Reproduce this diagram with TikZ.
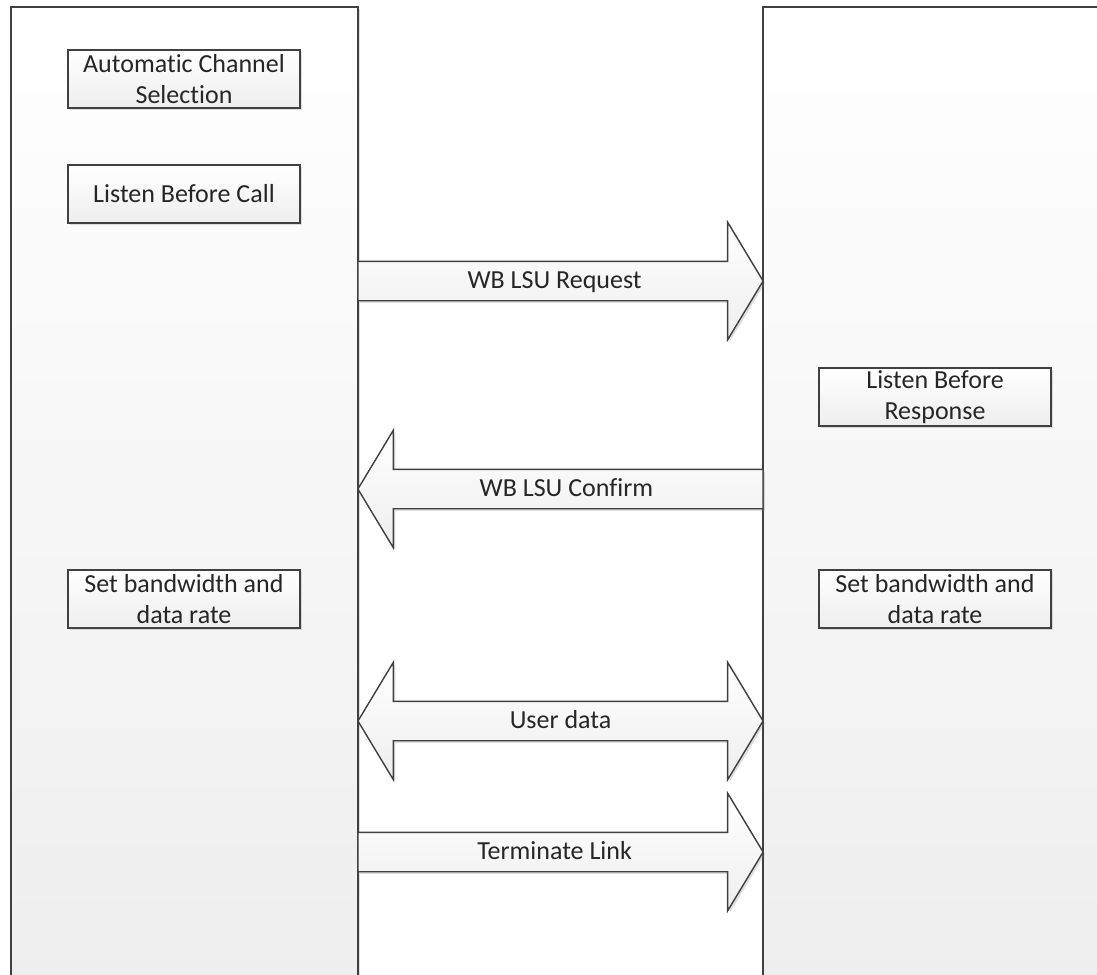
\documentclass[tikz,border=0pt]{standalone}
\usepackage{fontspec}
\setmainfont{Carlito}[Ligatures=NoCommon]
\usetikzlibrary{shapes.arrows,shadows}
\definecolor{linegray}{HTML}{404040}
\definecolor{textgray}{HTML}{262626}
\definecolor{fillgray}{HTML}{EEEEEE}
\tikzset{
  lightshadow/.style={drop shadow={shadow xshift=1.5pt,shadow yshift=-1.5pt,opacity=0.25,fill=gray}},
  panel/.style={draw=linegray,line width=1pt,top color=white,bottom color=fillgray,
    minimum height=24.5cm,anchor=north west,outer sep=0pt,lightshadow},
  task/.style={draw=linegray,line width=1pt,top color=white,bottom color=fillgray,
    minimum width=5.8cm,minimum height=1.45cm,inner sep=1pt,align=center,
    text=textgray,font=\fontsize{18.5}{22}\selectfont,lightshadow},
  msg/.style={draw=linegray,line width=1pt,top color=white,bottom color=fillgray,
    text=textgray,font=\fontsize{18.5}{22}\selectfont,
    text height=0.5cm,text depth=0.15cm,inner ysep=0.15cm,inner xsep=0pt,outer sep=0pt,
    minimum height=10.125cm,lightshadow},
  onearrow/.style={msg,single arrow,single arrow head extend=0.975cm,single arrow tip angle=117.8},
  twoarrow/.style={msg,double arrow,double arrow head extend=0.975cm,double arrow tip angle=117.8}
}
\begin{document}
\begin{tikzpicture}[x=0.025cm,y=-0.025cm]
  \useasboundingbox (0,0) rectangle (1097,974);
  % the two stations
  \node[panel,minimum width=8.675cm] (caller) at (11,7) {};
  \node[panel,minimum width=9cm] (responder) at (763,7) {};

  % caller side
  \node[task] (acs) at (184,79) {Automatic Channel\\Selection};
  \node[task] (lbc) at (184,194) {Listen Before Call};
  \node[task] (setcaller) at (184,599) {Set bandwidth and\\data rate};

  % responder side
  \node[task] (lbr) at (935,397) {Listen Before\\Response};
  \node[task] (setresp) at (935,599) {Set bandwidth and\\data rate};

  % messages
  \node[onearrow,anchor=tail] (request) at (358,281) {WB LSU Request};
  \node[onearrow,shape border rotate=180,anchor=tail] (confirm) at (763,489) {WB LSU Confirm};
  \node[twoarrow] (userdata) at (560.5,721) {User data};
  \node[onearrow,anchor=tail] (terminate) at (358,852) {Terminate Link};
\end{tikzpicture}
\end{document}
